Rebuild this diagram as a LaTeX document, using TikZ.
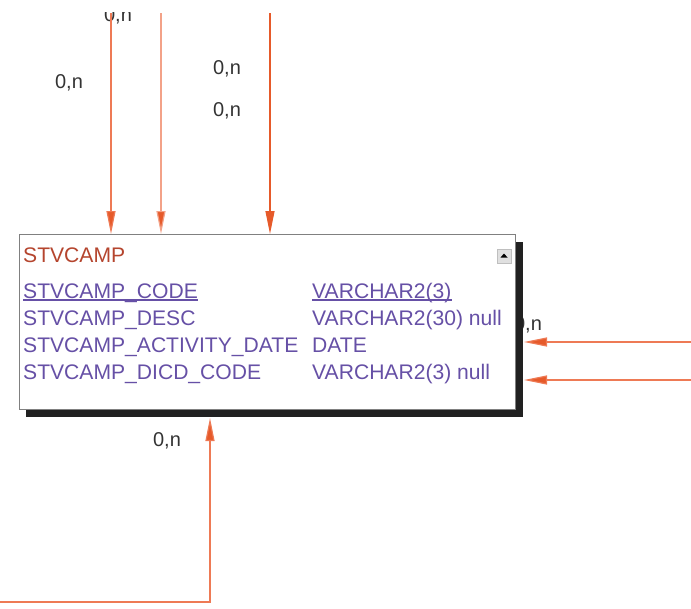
\documentclass[tikz,border=0pt]{standalone}
\usepackage{fontspec}
\setmainfont{Liberation Sans}
\usetikzlibrary{arrows.meta, calc, positioning}

\definecolor{relline}{HTML}{EE7A55}
\definecolor{reltip}{HTML}{E65A2A}
\definecolor{enttitle}{HTML}{B5452E}
\definecolor{attrtext}{HTML}{6650A6}
\definecolor{cardtext}{HTML}{333333}

\begin{document}
\begin{tikzpicture}[
    x=1pt, y=-1pt,
    >={Triangle[length=23pt, width=9pt, fill=reltip]},
    entity/.style={
        draw=black!50,
        fill=white,
        line width=1pt,
        minimum width=496pt,
        minimum height=175pt,
        inner sep=0pt
    },
    shade/.style={fill=black!87, draw=none},
    attr/.style={
        anchor=base west,
        inner sep=0pt,
        text=attrtext,
        font=\fontsize{21.1}{24}\selectfont
    },
    keyline/.style={draw=attrtext, line width=1.8pt},
    card/.style={
        inner sep=0pt,
        text=cardtext,
        font=\fontsize{20}{24}\selectfont
    },
    rel/.style={->, draw=relline, line width=1.2pt}
]
\useasboundingbox (0,0) rectangle (691,608);
\clip (0,12) rectangle (691,608);

% cardinalities
\node[card] (c1) at (118,16) {0,n};
\node[card] (c2) at (69,83) {0,n};
\node[card] (c3) at (227,69) {0,n};
\node[card] (c4) at (227,111) {0,n};
\node[card] (c5) at (528,325) {0,n};
\node[card] (c6) at (167,441) {0,n};

% entity with shadow
\fill[shade] (26,242) rectangle (523,417);
\node[entity, anchor=north west] (stvcamp) at (19,234) {};
\node[attr, text=enttitle] (title) at (23,262) {STVCAMP};
\node[attr] (a1) at (23,298) {STVCAMP\_CODE};
\node[attr] (a2) at (23,325) {STVCAMP\_DESC};
\node[attr] (a3) at (23,352) {STVCAMP\_ACTIVITY\_DATE};
\node[attr] (a4) at (23,379) {STVCAMP\_DICD\_CODE};
\node[attr] (t1) at (312,298) {VARCHAR2(3)};
\node[attr] (t2) at (312,325) {VARCHAR2(30) null};
\node[attr] (t3) at (312,352) {DATE};
\node[attr] (t4) at (312,379) {VARCHAR2(3) null};
\draw[keyline] ($(a1.base west)+(0,2)$) -- ($(a1.base east)+(0,2)$);
\draw[keyline] ($(t1.base west)+(0,2)$) -- ($(t1.base east)+(0,2)$);

% collapse button
\node[draw=black!25, fill=black!12, minimum size=14pt, inner sep=0pt] (btn) at (504,256) {};
\fill (btn.center) ++(-3.5,1.5) -- ++(7,0) -- ++(-3.5,-4) -- cycle;

% relationships
\coordinate (in1) at (111,13);
\coordinate (in2) at (161,13);
\coordinate (in3) at (270,13);
\coordinate (in4) at (691,342);
\coordinate (in5) at (691,380);
\coordinate (in6) at (0,602);
\draw[rel] (in1) -- (in1 |- stvcamp.north);
\draw[rel, draw=relline!70] (in2) -- (in2 |- stvcamp.north);
\draw[rel, draw=reltip] (in3) -- (in3 |- stvcamp.north);
\draw[rel] (in4) -- (524,342);
\draw[rel] (in5) -- (524,380);
\draw[rel] (in6) -| (210,418);
\end{tikzpicture}
\end{document}
